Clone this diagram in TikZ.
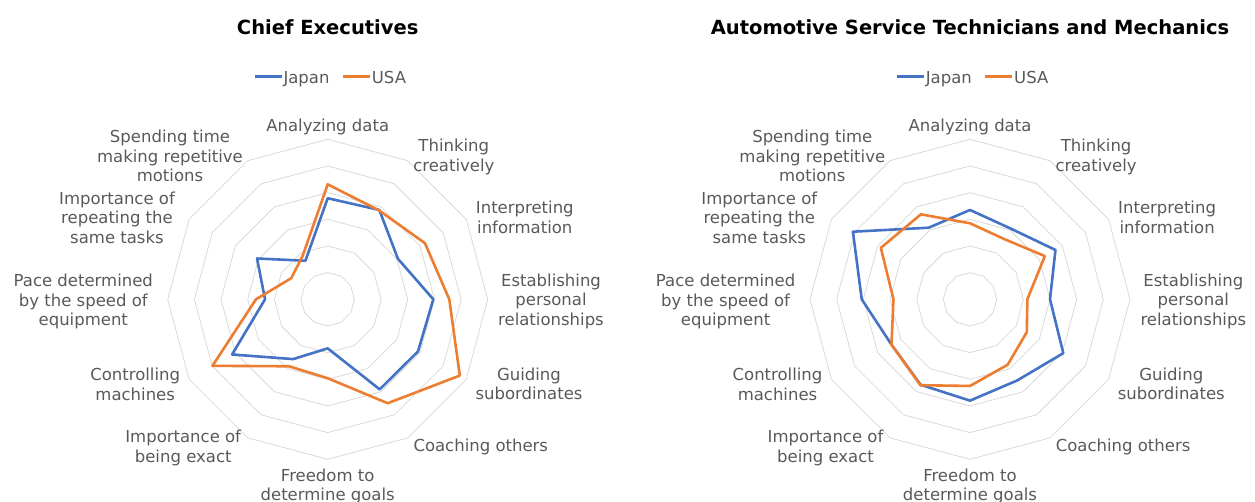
\documentclass[tikz,border=0pt]{standalone}
\usepackage{fontspec}
\setmainfont{DejaVu Sans}
\usepackage{tikz}
\definecolor{japanblue}{HTML}{4472C4}
\definecolor{usaorange}{HTML}{ED7D31}
\definecolor{gridgray}{HTML}{D9D9D9}
\definecolor{textgray}{HTML}{595959}
\tikzset{
  ring/.style={draw=gridgray, line width=0.8pt},
  japan/.style={draw=japanblue, line width=2.6pt, line join=round},
  usa/.style={draw=usaorange, line width=2.6pt, line join=round},
  lbl/.style={text=textgray, font=\fontsize{16.5}{19.5}\selectfont, align=center, inner sep=0pt, anchor=north},
  key/.style={inner sep=0pt, minimum width=26.5pt, minimum height=2.6pt},
  charttitle/.style={font=\bfseries\fontsize{19.5}{23}\selectfont, inner sep=0pt, anchor=base},
}
\newcommand{\radarframe}[2]{%
  \begin{scope}[shift={(#1)}]
    \foreach \r in {1,...,6}
      \draw[ring, x=26.667pt, y=26.667pt] (0:\r) \foreach \a in {30,60,...,330} {-- (\a:\r)} -- cycle;
    \node[charttitle] (#1-title) at (0pt,264.3pt) {#2};
    \node[key, fill=japanblue] (#1-kjp) at (-59.4pt,222.6pt) {};
    \node[lbl, anchor=base west] (#1-jp) at (-44.4pt,216pt) {Japan};
    \node[key, fill=usaorange] (#1-kus) at (28.6pt,222.6pt) {};
    \node[lbl, anchor=base west] (#1-us) at (44pt,216pt) {USA};
    \node[lbl] (#1-ana) at (0pt,180.3pt) {Analyzing data};
    \node[lbl] (#1-thi) at (126.1pt,160.1pt) {Thinking\\creatively};
    \node[lbl] (#1-int) at (197.1pt,98.5pt) {Interpreting\\information};
    \node[lbl] (#1-est) at (223.3pt,25.8pt) {Establishing\\personal\\relationships};
    \node[lbl] (#1-gui) at (201.3pt,-68.2pt) {Guiding\\subordinates};
    \node[lbl] (#1-coa) at (153.1pt,-139.2pt) {Coaching others};
    \node[lbl] (#1-fre) at (0pt,-169.2pt) {Freedom to\\determine goals};
    \node[lbl] (#1-exa) at (-144.5pt,-130.5pt) {Importance of\\being exact};
    \node[lbl] (#1-con) at (-192.5pt,-68.9pt) {Controlling\\machines};
    \node[lbl] (#1-pac) at (-244.4pt,25.1pt) {Pace determined\\by the speed of\\equipment};
    \node[lbl] (#1-rep) at (-210.7pt,107.8pt) {Importance of\\repeating the\\same tasks};
    \node[lbl] (#1-spe) at (-157.7pt,169.5pt) {Spending time\\making repetitive\\motions};
  \end{scope}}

\begin{document}
\begin{tikzpicture}[x=1pt, y=1pt]
\useasboundingbox (0,0) rectangle (1255,501);
\coordinate (ce) at (327.7,201.7);
\coordinate (am) at (970,201.7);

% Chief Executives
\radarframe{ce}{Chief Executives}
\begin{scope}[shift={(ce)}, x=26.667pt, y=26.667pt]
\draw[japan] (90:3.79) -- (60:3.87) -- (30:3.04) -- (0:3.96) -- (-30:3.91) -- (-60:3.90) -- (-90:1.84) -- (-120:2.59) -- (-150:4.14) -- (180:2.35) -- (150:3.06) -- (120:1.67) -- cycle;
\draw[usa] (90:4.31) -- (60:3.85) -- (30:4.21) -- (0:4.56) -- (-30:5.72) -- (-60:4.50) -- (-90:2.96) -- (-120:2.90) -- (-150:4.99) -- (180:2.69) -- (150:1.58) -- (120:1.88) -- cycle;
\end{scope}

% Automotive Service Technicians and Mechanics
\radarframe{am}{Automotive Service Technicians and Mechanics}
\begin{scope}[shift={(am)}, x=26.667pt, y=26.667pt]
\draw[japan] (90:3.35) -- (60:3.06) -- (30:3.70) -- (0:3.00) -- (-30:4.04) -- (-60:3.52) -- (-90:3.80) -- (-120:3.70) -- (-150:3.40) -- (180:4.06) -- (150:5.07) -- (120:3.10) -- cycle;
\draw[usa] (90:2.85) -- (60:2.60) -- (30:3.24) -- (0:2.15) -- (-30:2.46) -- (-60:2.83) -- (-90:3.25) -- (-120:3.72) -- (-150:3.40) -- (180:2.87) -- (150:3.86) -- (120:3.68) -- cycle;
\end{scope}
\end{tikzpicture}
\end{document}
